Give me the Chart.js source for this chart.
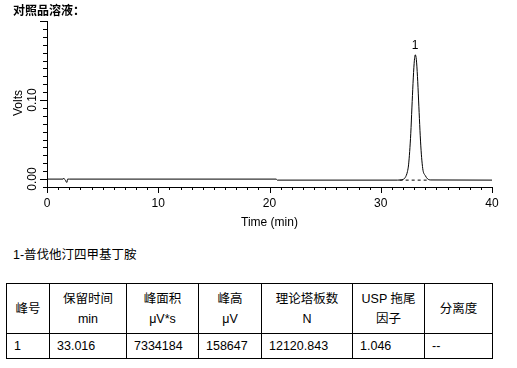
<!DOCTYPE html>
<html>
<head>
<meta charset="utf-8">
<script src="https://cdn.jsdelivr.net/npm/chart.js@4"></script>
<style>
  body { margin: 0; background: #fff; font-family: "Liberation Sans", Arial, "Noto Sans CJK SC", sans-serif; }
  #wrap { position: relative; width: 517px; height: 368px; }
  #chartBox { position: absolute; left: 0; top: 0; width: 517px; height: 230px; }
  #title { position: absolute; left: 13px; top: 1px; font-size: 12px; font-weight: bold; font-family: "Noto Sans CJK SC", sans-serif; }
  #peakName { position: absolute; left: 13px; top: 244px; font-size: 12.5px; font-family: "Liberation Sans", "Noto Sans CJK SC", sans-serif; }
  table { position: absolute; left: 6px; top: 283px; border-collapse: collapse; font-size: 12.5px; font-family: "Liberation Sans", "Noto Sans CJK SC", sans-serif; }
  td { border: 1px solid #000; padding: 0 0 0 7px; }
  tr.head td { height: 49px; text-align: center; padding: 0; line-height: 20px; }
  tr.row td { height: 24px; }
</style>
</head>
<body>
<div id="wrap">
  <div id="chartBox"><canvas id="chromChart" width="517" height="230"></canvas></div>
  <div id="title">对照品溶液：</div>
  <div id="peakName">1-普伐他汀四甲基丁胺</div>
  <table id="peakTable"></table>
</div>
<script>
// 色谱图数据 (时间 min, 电压 V)
const traceTime = [0, 1.45, 1.5, 1.55, 1.65, 1.75, 1.8, 1.85, 2.0, 20.6, 20.7, 31.5, 31.8, 32.0, 32.2, 32.4, 32.5, 32.6, 32.7, 32.8, 32.9, 33.0, 33.1, 33.2, 33.3, 33.4, 33.5, 33.6, 33.7, 33.8, 34.0, 34.2, 34.5, 40];
const traceVolts = [0, 0, 0.0012, 0, -0.001, -0.004, -0.004, 0, 0, 0, -0.0013, -0.0013, -0.0011, -0.0005, 0.002, 0.0095, 0.018, 0.035, 0.058, 0.09, 0.121, 0.146, 0.1573, 0.151, 0.13, 0.1, 0.069, 0.042, 0.023, 0.011, 0.0045, 0.0004, -0.0011, -0.0013];
const baselineTime = [31.7, 34.4];
const baselineVolts = [-0.0013, -0.0013];
const peakLabels = ['1'];
const peakTimes = [33.0];
const peakHeights = [0.1573];

const xLabelTicks = [0, 10, 20, 30, 40];
const yLabelTicks = [0.00, 0.10];

// 表格
const tableHeaders = ['峰号', '保留时间<br>min', '峰面积<br>μV*s', '峰高<br>μV', '理论塔板数<br>N', 'USP 拖尾<br>因子', '分离度'];
const tableRow = ['1', '33.016', '7334184', '158647', '12120.843', '1.046', '--'];
const colWidths = [43, 77, 72, 63, 91, 72, 68];

const table = document.getElementById('peakTable');
let html = '<tr class="head">';
tableHeaders.forEach((h, i) => { html += '<td style="width:' + (colWidths[i] - 1) + 'px">' + h + '</td>'; });
html += '</tr><tr class="row">';
tableRow.forEach(v => { html += '<td>' + v + '</td>'; });
html += '</tr>';
table.innerHTML = html;

const toPoints = (xs, ys) => xs.map((x, i) => ({ x: x, y: ys[i] }));

// 刻度线和标签
const axisPlugin = {
  id: 'axisDecor',
  afterDraw(chart) {
    const ctx = chart.ctx;
    const xs = chart.scales.x;
    const ys = chart.scales.y;
    const left = chart.chartArea.left;
    const bottom = chart.chartArea.bottom;
    ctx.save();
    ctx.strokeStyle = '#000';
    ctx.lineWidth = 1;
    ctx.beginPath();
    for (let t = 0; t <= 40; t++) {
      const px = Math.round(xs.getPixelForValue(t)) + 0.5;
      const len = (t % 10 === 0) ? 6 : 3;
      ctx.moveTo(px, bottom);
      ctx.lineTo(px, bottom + len);
    }
    for (let k = -1; k <= 20; k++) {
      const v = k / 100;
      const py = Math.round(ys.getPixelForValue(v)) + 0.5;
      const len = (k % 10 === 0) ? 7 : 4;
      ctx.moveTo(left, py);
      ctx.lineTo(left - len, py);
    }
    ctx.stroke();

    // y 轴旋转标签
    ctx.fillStyle = '#000';
    ctx.font = '12px "Liberation Sans", Arial';
    ctx.textAlign = 'center';
    ctx.textBaseline = 'middle';
    yLabelTicks.forEach(v => {
      ctx.save();
      ctx.translate(33, ys.getPixelForValue(v));
      ctx.rotate(-Math.PI / 2);
      ctx.fillText(v.toFixed(2), 0, 0);
      ctx.restore();
    });
    ctx.save();
    ctx.translate(19, 103);
    ctx.rotate(-Math.PI / 2);
    ctx.fillStyle = '#000';
    ctx.fillText('Volts', 0, 0);
    ctx.restore();

    // 峰标签
    peakLabels.forEach((lab, i) => {
      ctx.fillText(lab, xs.getPixelForValue(peakTimes[i]) + 1, ys.getPixelForValue(peakHeights[i]) - 9);
    });
    ctx.restore();
  }
};

new Chart(document.getElementById('chromChart'), {
  type: 'line',
  data: {
    datasets: [
      {
        data: toPoints(traceTime, traceVolts),
        borderColor: '#000',
        borderWidth: 1,
        pointRadius: 0,
        cubicInterpolationMode: 'monotone'
      },
      {
        data: toPoints(baselineTime, baselineVolts),
        borderColor: '#000',
        borderWidth: 1,
        borderDash: [3, 3],
        pointRadius: 0
      }
    ]
  },
  options: {
    responsive: false,
    animation: false,
    layout: { padding: { top: 21, right: 25, left: 0, bottom: 0 } },
    plugins: { legend: { display: false }, tooltip: { enabled: false } },
    scales: {
      x: {
        type: 'linear',
        min: 0,
        max: 40,
        afterFit: s => { s.height = 43; },
        grid: { display: false, drawTicks: false },
        border: { display: true, color: '#000', width: 1 },
        ticks: {
          stepSize: 10,
          autoSkip: false,
          maxRotation: 0,
          padding: 9,
          color: '#000',
          font: { size: 12, family: '"Liberation Sans", Arial' },
          callback: v => (xLabelTicks.includes(v) ? String(v) : '')
        },
        title: {
          display: true,
          text: 'Time (min)',
          color: '#000',
          font: { size: 12, family: '"Liberation Sans", Arial' },
          padding: { top: 0, bottom: 0 }
        }
      },
      y: {
        min: -0.01,
        max: 0.2,
        afterFit: s => { s.width = 47; },
        grid: { display: false, drawTicks: false },
        border: { display: true, color: '#000', width: 1 },
        ticks: { display: false }
      }
    }
  },
  plugins: [axisPlugin]
});
</script>
</body>
</html>
